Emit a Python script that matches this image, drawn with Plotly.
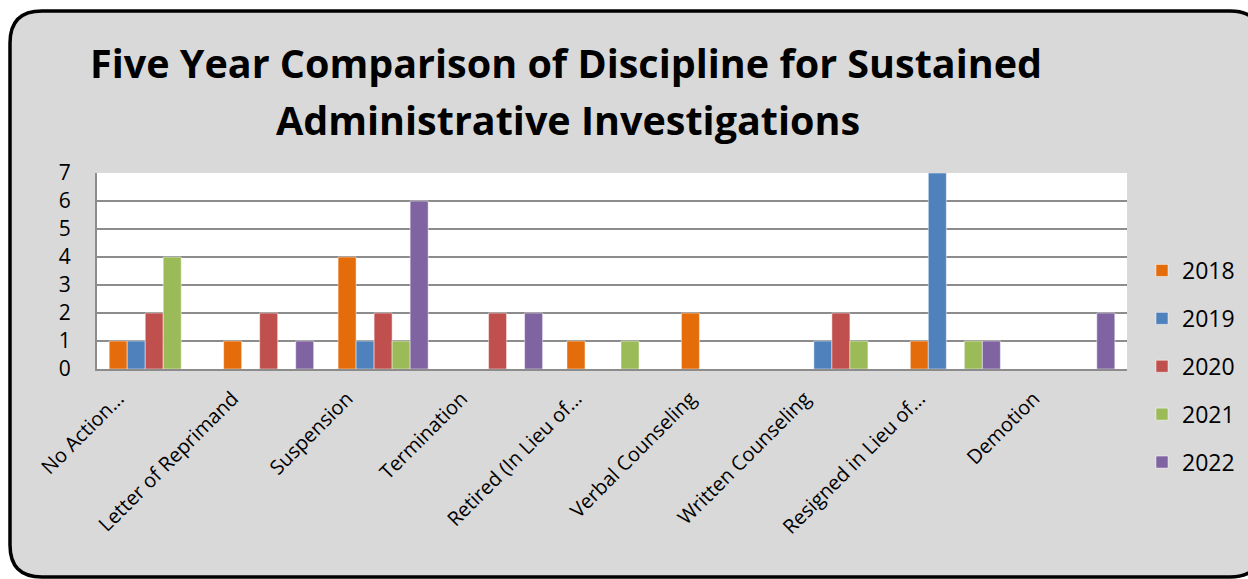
import plotly.graph_objects as go

categories = ["No Action...", "Letter of Reprimand", "Suspension", "Termination",
              "Retired (In Lieu of...", "Verbal Counseling", "Written Counseling",
              "Resigned in Lieu of...", "Demotion"]
years = ["2018", "2019", "2020", "2021", "2022"]
v2018 = [1, 1, 4, 0, 1, 2, 0, 1, 0]
v2019 = [1, 0, 1, 0, 0, 0, 1, 7, 0]
v2020 = [2, 2, 2, 2, 0, 0, 2, 0, 0]
v2021 = [4, 0, 1, 0, 1, 0, 1, 1, 0]
v2022 = [0, 1, 6, 2, 0, 0, 0, 1, 2]
series = [v2018, v2019, v2020, v2021, v2022]
colors = ["#E46C0A", "#4F81BD", "#C0504D", "#9BBB59", "#8064A2"]

W, H = 1248, 579
L, R, T, B = 97, 1127, 173, 369
FONT = "Open Sans"

fig = go.Figure()
for i, (y, vals) in enumerate(zip(years, series)):
    fig.add_trace(go.Bar(x=categories, y=vals, name=y, marker_color=colors[i],
                         marker_line_color="rgba(255,255,255,0.6)", marker_line_width=0.8,
                         legendgroup=y))

def px(x):
    return (x - L) / (R - L)

def py(y):
    return (B - y) / (B - T)

# rounded background rectangle
x0, x1, y0, y1, r = 10, 1262, 11, 577, 32
path = (f"M {px(x0+r)},{py(y0)} L {px(x1-r)},{py(y0)} "
        f"Q {px(x1)},{py(y0)} {px(x1)},{py(y0+r)} L {px(x1)},{py(y1-r)} "
        f"Q {px(x1)},{py(y1)} {px(x1-r)},{py(y1)} L {px(x0+r)},{py(y1)} "
        f"Q {px(x0)},{py(y1)} {px(x0)},{py(y1-r)} L {px(x0)},{py(y0+r)} "
        f"Q {px(x0)},{py(y0)} {px(x0+r)},{py(y0)} Z")
fig.add_shape(type="path", path=path, xref="paper", yref="paper",
              fillcolor="#D9D9D9", line=dict(color="black", width=3.5), layer="below")
# white plot area
fig.add_shape(type="rect", xref="paper", yref="paper", x0=0, x1=1, y0=0, y1=1,
              fillcolor="white", line_width=0, layer="below")

fig.add_annotation(text="<b>Five Year Comparison of Discipline for Sustained</b>",
                   xref="paper", yref="paper", x=px(566), y=py(63), xanchor="center", yanchor="middle",
                   showarrow=False, font=dict(family=FONT, size=39.5, color="black"))
fig.add_annotation(text="<b>Administrative Investigations</b>",
                   xref="paper", yref="paper", x=px(568), y=py(120), xanchor="center", yanchor="middle",
                   showarrow=False, font=dict(family=FONT, size=39.5, color="black"))

fig.update_layout(
    width=W, height=H,
    margin=dict(l=L, r=W - R, t=T, b=H - B, pad=0, autoexpand=False),
    paper_bgcolor="white", plot_bgcolor="rgba(0,0,0,0)",
    barmode="group", bargap=0.213, bargroupgap=0,
    showlegend=True,
    legend=dict(x=px(1142), y=py(249), xanchor="left", yanchor="top",
                font=dict(family=FONT, size=23, color="black"),
                bgcolor="rgba(0,0,0,0)", tracegroupgap=15, itemwidth=30, maxheight=400),
    font=dict(family=FONT, color="black"),
)
fig.update_yaxes(range=[0, 7], dtick=1, showgrid=True, gridcolor="#8C8C8C", gridwidth=1.5,
                 showline=True, linecolor="#8C8C8C", linewidth=2, zeroline=False, automargin=False,
                 tickfont=dict(family=FONT, size=21, color="black"), ticklabelstandoff=20)
fig.update_xaxes(showline=True, linecolor="#8C8C8C", linewidth=2, mirror=False, automargin=False,
                 tickangle=-45, tickfont=dict(family=FONT, size=20, color="black"),
                 ticklabelstandoff=8, ticklabelshift=-36)

fig.write_html("out.html", config={"displayModeBar": False},
               post_script="document.body.style.margin='0';document.body.style.overflow='hidden';")
